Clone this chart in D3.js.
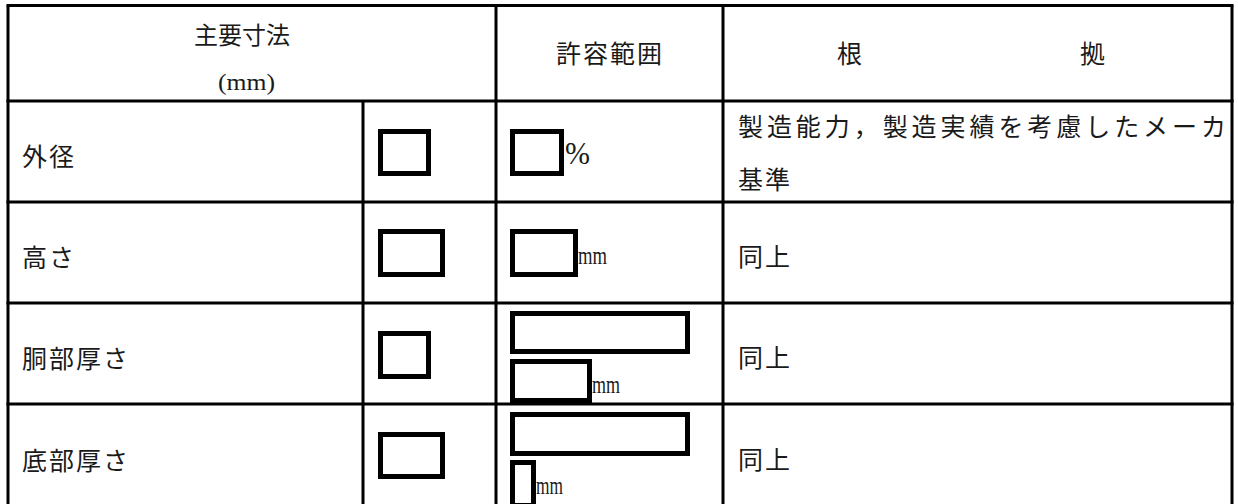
<!DOCTYPE html>
<html>
<head>
<meta charset="utf-8">
<script src="https://cdn.jsdelivr.net/npm/d3@7"></script>
<style>
  html, body { margin: 0; padding: 0; background: #fff; }
  svg { display: block; }
</style>
</head>
<body>
<svg id="chart" width="1238" height="504"></svg>
<script>
// ---- data ----
const headerDims = ["主要寸法", "(mm)"];
const headerRange = "許容範囲";
const headerBasis = ["根", "拠"];
const items = ["外径", "高さ", "胴部厚さ", "底部厚さ"];
const units = ["%", "mm", "mm", "mm"];
const basis = [["製造能力，製造実績を考慮したメーカ", "基準"], ["同上"], ["同上"], ["同上"]];

// ---- layout ----
const svg = d3.select("#chart");
const W = 1238, H = 504;
svg.append("rect").attr("width", W).attr("height", H).attr("fill", "#fff");

const x = d3.scaleLinear().domain([0, 1, 2, 3, 4]).range([8, 363, 496, 723, 1232]);
const y = d3.scaleLinear().domain([0, 1, 2, 3, 4, 5]).range([5.5, 101, 202, 303, 404, 508]);

const jp = "'Noto Sans CJK JP', 'Noto Sans', sans-serif";
const serif = "'Liberation Serif', 'DejaVu Serif', serif";
const ink = "#1a1a1a";
const fs = 25;

const g = svg.append("g");

// grid lines
const lw = 3;
[0, 1, 2, 3, 4, 5].forEach(r => {
  g.append("line").attr("x1", x(0) - lw / 2).attr("x2", x(4) + lw / 2)
    .attr("y1", y(r)).attr("y2", y(r)).attr("stroke", "#000").attr("stroke-width", lw);
});
[0, 2, 3, 4].forEach(c => {
  g.append("line").attr("x1", x(c)).attr("x2", x(c))
    .attr("y1", y(0)).attr("y2", y(5)).attr("stroke", "#000").attr("stroke-width", lw);
});
g.append("line").attr("x1", x(1)).attr("x2", x(1))
  .attr("y1", y(1)).attr("y2", y(5)).attr("stroke", "#000").attr("stroke-width", lw);

// header texts
g.append("text").text(headerDims[0]).attr("x", 242).attr("y", 33)
  .attr("text-anchor", "middle").attr("dominant-baseline", "central")
  .attr("font-family", jp).attr("font-size", 24).attr("fill", ink);
g.append("text").text(headerDims[1]).attr("x", 218).attr("y", 90)
  .attr("textLength", 57).attr("lengthAdjust", "spacingAndGlyphs")
  .attr("font-family", serif).attr("font-size", 24).attr("fill", ink);
g.append("text").text(headerRange).attr("x", 556).attr("y", 52)
  .attr("textLength", 106).attr("lengthAdjust", "spacing")
  .attr("dominant-baseline", "central")
  .attr("font-family", jp).attr("font-size", fs).attr("fill", ink);
const bx = [837, 1080];
headerBasis.forEach((t, i) => {
  g.append("text").text(t).attr("x", bx[i]).attr("y", 52)
    .attr("dominant-baseline", "central")
    .attr("font-family", jp).attr("font-size", fs).attr("fill", ink);
});

// body rows: item labels
items.forEach((name, i) => {
  const cy = (y(i + 1) + y(i + 2)) / 2 + 3;
  g.append("text").text(name).attr("x", 22).attr("y", cy)
    .attr("dominant-baseline", "central").attr("letter-spacing", 2)
    .attr("font-family", jp).attr("font-size", fs).attr("fill", ink);
});

// basis column
basis.forEach((lines, i) => {
  const top = y(i + 1);
  if (lines.length === 2) {
    g.append("text").text(lines[0]).attr("x", 738).attr("y", top + 24)
      .attr("textLength", 488).attr("lengthAdjust", "spacing")
      .attr("dominant-baseline", "central")
      .attr("font-family", jp).attr("font-size", fs).attr("fill", ink);
    g.append("text").text(lines[1]).attr("x", 738).attr("y", top + 77)
      .attr("dominant-baseline", "central").attr("letter-spacing", 2)
      .attr("font-family", jp).attr("font-size", fs).attr("fill", ink);
  } else {
    const cy = (y(i + 1) + y(i + 2)) / 2 + 2;
    g.append("text").text(lines[0]).attr("x", 738).attr("y", cy)
      .attr("dominant-baseline", "central").attr("letter-spacing", 2)
      .attr("font-family", jp).attr("font-size", fs).attr("fill", ink);
  }
});

// redaction boxes (outer edges), relative to row top
const boxes = [
  [{ x0: 378, x1: 431, t: 28, b: 75 }, { x0: 510, x1: 564, t: 28, b: 75 }],
  [{ x0: 378, x1: 445, t: 27, b: 75 }, { x0: 510, x1: 578, t: 27, b: 75 }],
  [{ x0: 378, x1: 431, t: 28, b: 76 }, { x0: 510, x1: 690, t: 8, b: 51 }, { x0: 510, x1: 592, t: 56, b: 100 }],
  [{ x0: 378, x1: 445, t: 28, b: 75 }, { x0: 510, x1: 690, t: 8, b: 52 }, { x0: 510, x1: 536, t: 56, b: 104 }]
];
const bw = 5;
boxes.forEach((row, i) => {
  const top = y(i + 1);
  row.forEach(b => {
    g.append("rect")
      .attr("x", b.x0 + bw / 2).attr("y", top + b.t + bw / 2)
      .attr("width", b.x1 - b.x0 - bw).attr("height", b.b - b.t - bw)
      .attr("fill", "none").attr("stroke", "#000").attr("stroke-width", bw);
  });
});

// units after boxes
const unitPos = [
  { x: 565, base: 164, w: 25 },
  { x: 578, base: 264, w: 29 },
  { x: 592, base: 393, w: 28 },
  { x: 536, base: 494, w: 27 }
];
units.forEach((u, i) => {
  const p = unitPos[i];
  g.append("text").text(u).attr("x", p.x).attr("y", p.base)
    .attr("textLength", p.w).attr("lengthAdjust", "spacingAndGlyphs")
    .attr("font-family", serif).attr("font-size", u === "%" ? 32 : 26).attr("fill", ink);
});
</script>
</body>
</html>
